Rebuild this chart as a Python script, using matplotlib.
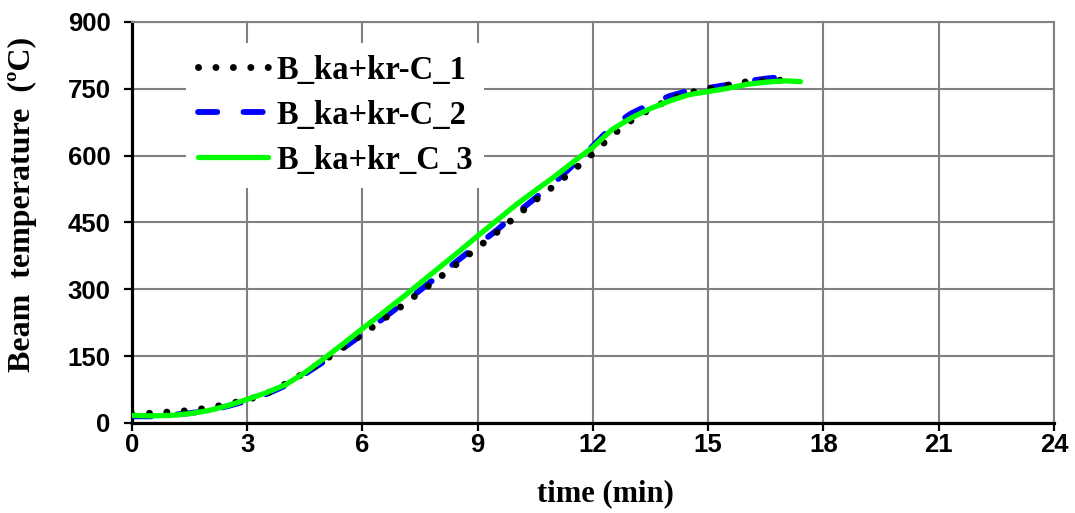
import matplotlib
matplotlib.use("Agg")
import matplotlib.pyplot as plt

# Beam temperature histories (time in min, temperature in ºC)
time_c1 = [0, 0.5, 1, 1.5, 2, 2.5, 3, 3.5, 4, 4.5, 5, 5.5, 6, 6.5, 7, 7.5, 8, 8.5,
           9, 9.5, 10, 10.5, 11, 11.5, 12, 12.5, 13, 13.5, 14, 14.5, 15, 15.5,
           16, 16.5, 17, 17.2]
temp_c1 = [20, 22, 25, 28, 34, 43, 52, 66, 88, 113, 140, 170, 199, 230, 261, 294,
           326, 360, 394, 428, 464, 500, 533, 568, 605, 646, 679, 705, 726, 741,
           750, 758, 766, 768, 770, 772]

time_c2 = [0, 0.5, 1, 1.5, 2, 2.5, 3, 3.5, 4, 4.5, 5, 5.5, 6, 6.5, 7, 7.5, 8, 8.5,
           9, 9.5, 10, 10.5, 11, 11.5, 12, 12.5, 13, 13.5, 14, 14.5, 15, 15.5,
           16, 16.5, 17, 17.2]
temp_c2 = [15, 15, 18, 22, 28, 38, 50, 65, 84, 110, 138, 168, 199, 232, 265, 298,
           332, 366, 400, 433, 470, 505, 540, 580, 622, 666, 695, 716, 734, 746,
           752, 759, 767, 773, 777, 777]

time_c3 = [0, 0.5, 1, 1.5, 2, 2.5, 3, 3.5, 4, 4.5, 5, 5.5, 6, 6.5, 7, 7.5, 8, 8.5,
           9, 9.5, 10, 10.5, 11, 11.5, 12, 12.5, 13, 13.5, 14, 14.5, 15, 15.5,
           16, 16.5, 17, 17.4]
temp_c3 = [17, 16, 17, 21, 28, 39, 53, 68, 86, 113, 145, 178, 212, 245, 279, 314,
           349, 384, 420, 455, 490, 522, 553, 587, 619, 659, 685, 706, 723, 737,
           744, 751, 760, 765, 768, 766]

labels = ["B_ka+kr-C_1", "B_ka+kr-C_2", "B_ka+kr_C_3"]

x_ticks = [0, 3, 6, 9, 12, 15, 18, 21, 24]
y_ticks = [0, 150, 300, 450, 600, 750, 900]

serif_bold = {"family": "Liberation Serif", "weight": "bold"}

fig = plt.figure(figsize=(10.75, 5.13), dpi=100)
ax = fig.add_axes([0.12279, 0.17544, 0.85767, 0.78168])

ax.plot(time_c1, temp_c1, color="black", lw=5.0, linestyle=(0, (0.01, 2.5)),
        dash_capstyle="round", solid_capstyle="round", zorder=3.1, label=labels[0])
ax.plot(time_c2, temp_c2, color="#0000ff", lw=4.2, linestyle=(0, (3.3, 4.5)),
        dash_capstyle="round", zorder=3.0, label=labels[1])
ax.plot(time_c3, temp_c3, color="#00ff00", lw=3.8, solid_capstyle="round",
        zorder=3.2, label=labels[2])

ax.set_xlim(0, 24)
ax.set_ylim(0, 900)
ax.set_xticks(x_ticks)
ax.set_yticks(y_ticks)

ax.set_axisbelow(True)
ax.grid(True, color="#808080", lw=1.5)

for side in ("top", "right"):
    ax.spines[side].set_color("#808080")
    ax.spines[side].set_linewidth(1.5)
for side in ("left", "bottom"):
    ax.spines[side].set_color("black")
    ax.spines[side].set_linewidth(2.3)

ax.tick_params(direction="out", length=5.5, width=1.6, color="black",
               labelsize=18.5)
ax.tick_params(axis="x", pad=1.5)
ax.tick_params(axis="y", pad=10)
for lab in ax.get_xticklabels() + ax.get_yticklabels():
    lab.set_fontfamily("Liberation Sans")
    lab.set_fontweight("bold")

ax.set_xlabel("time (min)", fontsize=22, **serif_bold)
ax.set_ylabel("Beam  temperature  (ºC)", fontsize=23, **serif_bold)
ax.xaxis.set_label_coords(0.513, -0.14)
ax.yaxis.set_label_coords(-0.103, 0.544)

leg = ax.legend(loc="upper left", bbox_to_anchor=(0.0586, 0.9476),
                borderaxespad=0, prop={"family": "Liberation Serif",
                                       "weight": "bold", "size": 23.5},
                handlelength=2.15, handletextpad=0.25, labelspacing=0.43,
                borderpad=0.36, frameon=True, fancybox=False, framealpha=1)
leg.get_frame().set_edgecolor("none")
leg.get_frame().set_facecolor("white")
leg.set_zorder(5)

fig.savefig("out.png", dpi=100)
